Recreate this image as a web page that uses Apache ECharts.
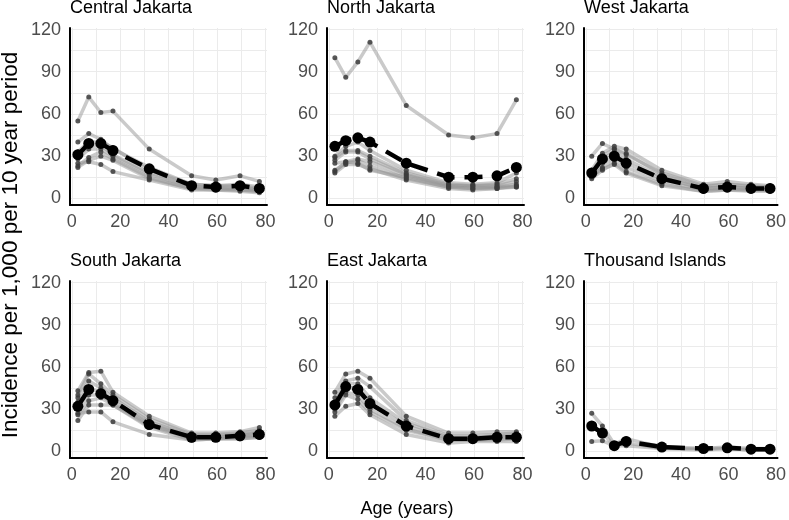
<!DOCTYPE html>
<html><head><meta charset="utf-8">
<script src="https://cdn.jsdelivr.net/npm/echarts@6/dist/echarts.min.js"></script>
<style>html,body{margin:0;padding:0;background:#fff}#c{width:789px;height:520px}</style>
</head><body><div id="c"></div>
<script>
const ages = [2.5, 7, 12, 17, 32, 49.5, 59.5, 69.5, 77.5];
const xTickLabels = [0, 20, 40, 60, 80];
const yTickLabels = [0, 30, 60, 90, 120];
const xGridValues = [0, 10, 20, 30, 40, 50, 60, 70, 80];
const yGridValues = [0, 15, 30, 45, 60, 75, 90, 105, 120];
const districts = ['Central Jakarta', 'North Jakarta', 'West Jakarta', 'South Jakarta', 'East Jakarta', 'Thousand Islands'];

const centralMean = [31, 39, 39, 34, 21, 9, 8, 9, 7];
const centralPeriods = [
  [55, 72, 61, 62, 35, 16, 13, 16, 12],
  [40, 46, 42, 35, 22, 10, 9, 10, 8],
  [33, 40, 40, 36, 20, 10, 9, 9, 7],
  [30, 37, 38, 31, 18, 9, 8, 8, 6],
  [28, 35, 35, 30, 17, 8, 7, 7, 6],
  [23, 29, 33, 28, 15, 7, 7, 6, 5],
  [22, 27, 30, 27, 14, 7, 6, 6, 5],
  [25, 26, 24, 19, 13, 6, 6, 5, 4]
];
const northMean = [37, 41, 43, 40, 25, 15, 15, 16, 22];
const northPeriods = [
  [100, 86, 97, 111, 66, 45, 43, 46, 70],
  [30, 37, 40, 34, 20, 11, 10, 11, 18],
  [29, 34, 34, 30, 18, 10, 9, 10, 14],
  [27, 33, 33, 28, 17, 9, 9, 9, 12],
  [25, 26, 28, 26, 16, 9, 8, 8, 10],
  [20, 25, 27, 23, 14, 8, 7, 7, 9],
  [18, 24, 24, 21, 13, 7, 6, 7, 8],
  [19, 26, 25, 20, 15, 8, 7, 8, 8]
];
const westMean = [18, 28, 30, 25, 14, 7, 8, 7, 7];
const westPeriods = [
  [30, 39, 35, 31, 18, 9, 10, 9, 8],
  [20, 32, 37, 35, 20, 10, 12, 10, 9],
  [18, 30, 35, 32, 17, 8, 10, 8, 8],
  [17, 28, 33, 28, 15, 7, 8, 7, 7],
  [16, 25, 30, 25, 14, 7, 8, 7, 7],
  [15, 22, 27, 22, 12, 6, 7, 6, 6],
  [14, 20, 25, 19, 10, 5, 6, 6, 6],
  [16, 21, 24, 18, 9, 5, 6, 5, 5]
];
const southMean = [32, 44, 41, 36, 19, 10, 10, 11, 12];
const southPeriods = [
  [43, 56, 57, 42, 25, 13, 13, 14, 17],
  [40, 55, 48, 40, 23, 12, 12, 13, 15],
  [38, 50, 45, 38, 21, 11, 11, 12, 14],
  [35, 45, 42, 36, 20, 10, 10, 11, 13],
  [30, 40, 40, 34, 19, 10, 10, 11, 12],
  [26, 36, 38, 33, 18, 9, 9, 10, 11],
  [22, 33, 33, 33, 17, 8, 9, 9, 10],
  [27, 28, 28, 21, 12, 8, 9, 9, 10]
];
const eastMean = [33, 46, 44, 34, 18, 9, 9, 10, 10];
const eastPeriods = [
  [42, 55, 57, 52, 25, 13, 13, 14, 14],
  [38, 50, 52, 46, 22, 11, 11, 12, 13],
  [35, 48, 48, 38, 20, 10, 10, 11, 12],
  [33, 45, 45, 34, 18, 9, 9, 10, 11],
  [30, 42, 40, 30, 16, 8, 8, 9, 10],
  [28, 40, 37, 28, 15, 8, 8, 8, 9],
  [25, 32, 34, 26, 12, 6, 7, 7, 7]
];
const islandsMean = [18, 13, 4, 7, 3, 2, 2.5, 1.5, 1.5];
const islandsPeriods = [
  [27, 18, 5, 9, 3, 2, 3, 2, 2],
  [17, 13, 4, 6, 2, 2, 2, 1, 1],
  [7, 7.5, 4, 4, 2, 1, 2, 1, 1]
];

const panelMeans = [centralMean, northMean, westMean, southMean, eastMean, islandsMean];
const panelPeriods = [centralPeriods, northPeriods, westPeriods, southPeriods, eastPeriods, islandsPeriods];

const FONT = 'Liberation Sans, Arial, sans-serif';
const colLeft = [70, 327, 584];
const rowTop = [28, 281];
const W = 197, H = 177;

const grids = [], xAxes = [], yAxes = [], series = [], graphics = [];
for (let p = 0; p < 6; p++) {
  const r = Math.floor(p / 3), c = p % 3;
  grids.push({left: colLeft[c], top: rowTop[r], width: W, height: H, containLabel: false});
  xAxes.push({
    type: 'value', gridIndex: p, min: -0.75, max: 80.65,
    axisLine: {show: true, onZero: false, lineStyle: {color: '#000', width: 2}},
    axisTick: {show: false, customValues: xGridValues},
    axisLabel: {customValues: xTickLabels, color: '#4d4d4d', fontSize: 18, fontFamily: FONT, margin: 8},
    splitLine: {show: true, lineStyle: {color: '#ebebeb', width: 1}}
  });
  yAxes.push({
    type: 'value', gridIndex: p, min: -4.75, max: 121.1,
    axisLine: {show: true, onZero: false, lineStyle: {color: '#000', width: 2}},
    axisTick: {show: false, customValues: yGridValues},
    axisLabel: {customValues: yTickLabels, color: '#4d4d4d', fontSize: 18, fontFamily: FONT, margin: 9},
    splitLine: {show: true, lineStyle: {color: '#ebebeb', width: 1}}
  });
  panelPeriods[p].forEach(vals => {
    series.push({
      type: 'line', xAxisIndex: p, yAxisIndex: p, z: 2,
      data: ages.map((a, i) => [a, vals[i]]),
      symbol: 'circle', symbolSize: 5, showSymbol: true,
      lineStyle: {color: 'rgba(150,150,150,0.5)', width: 3.5},
      itemStyle: {color: 'rgba(60,60,60,0.85)'},
      silent: true, animation: false
    });
  });
  series.push({
    type: 'line', xAxisIndex: p, yAxisIndex: p, z: 3,
    data: ages.map((a, i) => [a, panelMeans[p][i]]),
    symbol: 'circle', symbolSize: 11,
    lineStyle: {color: '#000', width: 4.5, type: [18, 10]},
    itemStyle: {color: '#000'},
    silent: true, animation: false
  });
  graphics.push({
    type: 'text', x: colLeft[c], y: rowTop[r] - 20,
    style: {text: districts[p], font: '18px ' + FONT, fill: '#000', textAlign: 'left', textVerticalAlign: 'middle'}
  });
}
graphics.push({
  type: 'text', x: 11, y: 245, rotation: Math.PI / 2,
  style: {text: 'Incidence per 1,000 per 10 year period', font: '22.5px ' + FONT, fill: '#000', textAlign: 'center', textVerticalAlign: 'middle'}
});
graphics.push({
  type: 'text', x: 407, y: 509,
  style: {text: 'Age (years)', font: '18px ' + FONT, fill: '#000', textAlign: 'center', textVerticalAlign: 'middle'}
});

const chart = echarts.init(document.getElementById('c'), null, {renderer: 'canvas'});
chart.setOption({
  animation: false,
  backgroundColor: '#fff',
  grid: grids, xAxis: xAxes, yAxis: yAxes, series: series, graphic: graphics
});
</script></body></html>
